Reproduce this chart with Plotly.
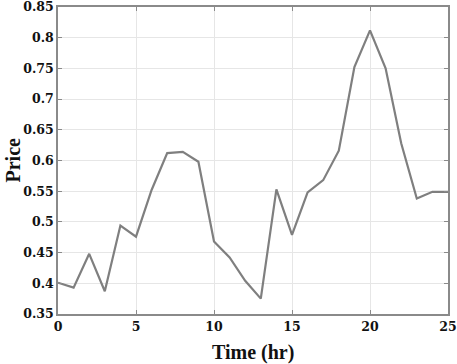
import plotly.graph_objects as go

hours = list(range(26))
price = [0.401, 0.393, 0.448, 0.387, 0.494, 0.476, 0.552, 0.612, 0.614, 0.598,
         0.468, 0.442, 0.404, 0.375, 0.553, 0.479, 0.548, 0.568, 0.616, 0.752,
         0.812, 0.750, 0.628, 0.538, 0.549, 0.549]
x_ticks = [0, 5, 10, 15, 20, 25]
y_ticks = [0.35, 0.4, 0.45, 0.5, 0.55, 0.6, 0.65, 0.7, 0.75, 0.8, 0.85]

fig = go.Figure()
fig.add_trace(go.Scatter(x=hours, y=price, mode="lines",
                         line=dict(color="#7f7f7f", width=2.2)))

font_family = "Liberation Serif, DejaVu Serif, serif"
tick_family = "DejaVu Serif"
axis_common = dict(
    showline=True, linecolor="#8a8a8a", linewidth=1.5, mirror="ticks",
    ticks="inside", ticklen=4, tickcolor="#8a8a8a",
    showgrid=True, gridcolor="#e6e6e6", gridwidth=1,
    zeroline=False, automargin=False, ticklabeloverflow="allow",
    tickfont=dict(family=tick_family, size=12.5, color="#111", weight="bold"),
)
fig.update_xaxes(range=[0, 25], tickvals=x_ticks, **axis_common)
fig.update_yaxes(range=[0.35, 0.85], tickvals=y_ticks, **axis_common)
fig.update_layout(width=457, height=364, showlegend=False,
                  font=dict(family=font_family, color="#111"),
                  margin=dict(l=58, r=9, t=7, b=50),
                  plot_bgcolor="white", paper_bgcolor="white",
                  annotations=[
                      dict(text="Time (hr)", xref="paper", yref="paper", x=0.5, y=0,
                           yshift=-38, yanchor="middle", showarrow=False,
                           font=dict(family=font_family, size=20, color="#111", weight="bold")),
                      dict(text="Price", xref="paper", yref="paper", x=0, y=0.5,
                           xshift=-46, textangle=-90, xanchor="center", showarrow=False,
                           font=dict(family=font_family, size=20, color="#111", weight="bold")),
                  ])
fig.write_html("out.html", config={"displayModeBar": False},
               post_script="document.body.style.margin='0';document.body.style.overflow='hidden';")
